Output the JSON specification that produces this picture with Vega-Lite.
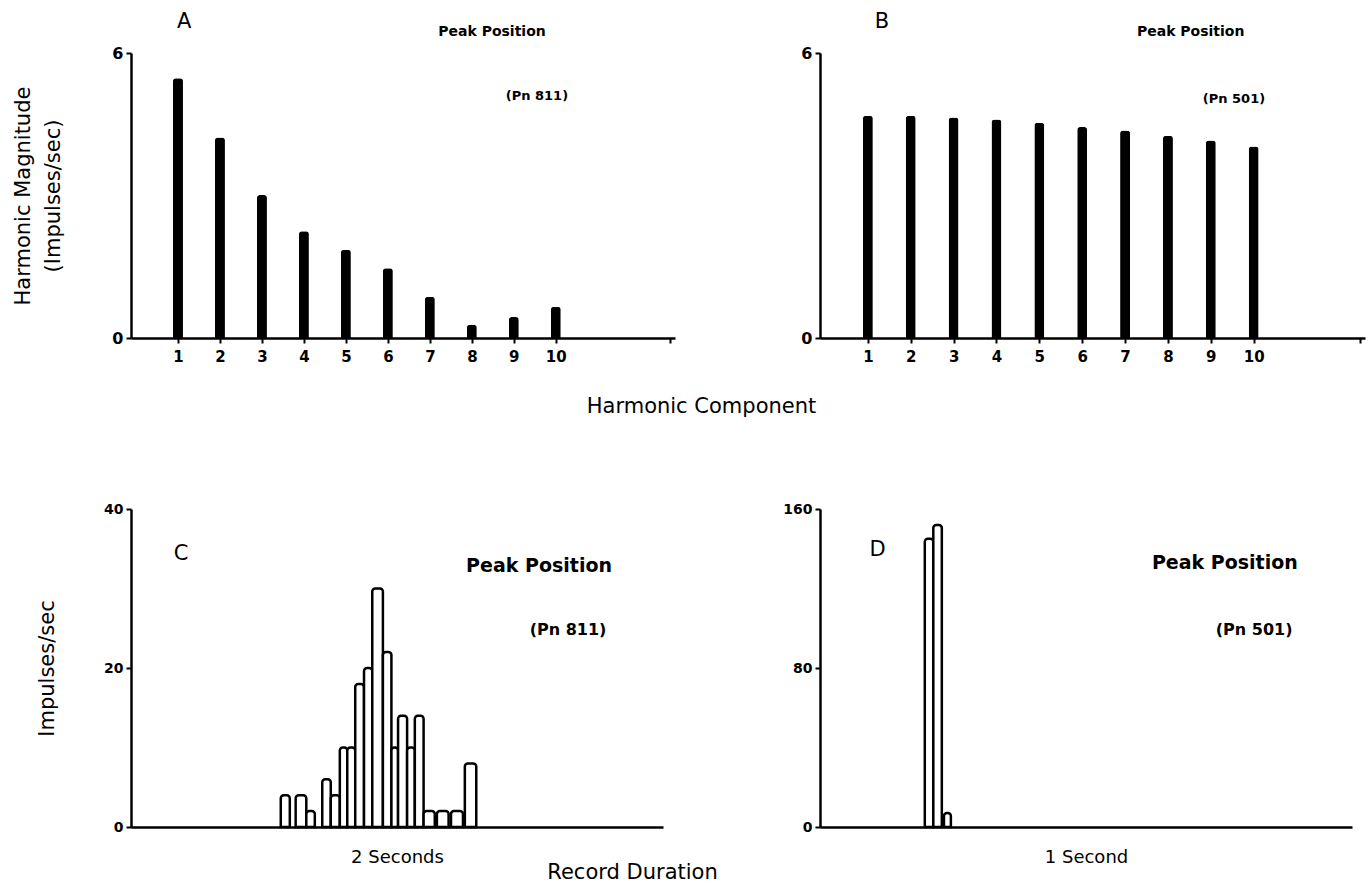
{
  "$schema": "https://vega.github.io/schema/vega-lite/v6.json",
  "background": "white",
  "padding": {"left": 11, "top": 10, "right": 4, "bottom": 2},
  "bounds": "flush",
  "columns": 2,
  "spacing": {"row": 171, "column": 145},
  "title": {"text": "Record Duration", "orient": "bottom", "anchor": "middle", "dx": -56, "offset": -4, "fontSize": 21, "fontWeight": 500, "font": "DejaVu Sans", "color": "black"},
  "config": {
    "view": {"stroke": null},
    "font": "DejaVu Sans",
    "axis": {
      "grid": false,
      "labelFlush": false,
      "labelOverlap": false,
      "domainColor": "black",
      "domainWidth": 2.5,
      "tickColor": "black",
      "tickWidth": 2,
      "tickSize": 5,
      "labelColor": "black",
      "labelFont": "DejaVu Sans",
      "labelFontWeight": "bold",
      "labelFontSize": 15,
      "titleColor": "black",
      "titleFont": "DejaVu Sans",
      "titleFontWeight": "normal",
      "titleFontSize": 21
    },
    "text": {"font": "DejaVu Sans", "color": "black"}
  },
  "datasets": {
    "harmA": [
      {"harmonic": 1, "magnitude": 5.47},
      {"harmonic": 2, "magnitude": 4.22},
      {"harmonic": 3, "magnitude": 3.01},
      {"harmonic": 4, "magnitude": 2.25},
      {"harmonic": 5, "magnitude": 1.86},
      {"harmonic": 6, "magnitude": 1.47},
      {"harmonic": 7, "magnitude": 0.87},
      {"harmonic": 8, "magnitude": 0.28},
      {"harmonic": 9, "magnitude": 0.44},
      {"harmonic": 10, "magnitude": 0.66}
    ],
    "harmB": [
      {"harmonic": 1, "magnitude": 4.68},
      {"harmonic": 2, "magnitude": 4.68},
      {"harmonic": 3, "magnitude": 4.64},
      {"harmonic": 4, "magnitude": 4.6},
      {"harmonic": 5, "magnitude": 4.53},
      {"harmonic": 6, "magnitude": 4.44},
      {"harmonic": 7, "magnitude": 4.37},
      {"harmonic": 8, "magnitude": 4.26},
      {"harmonic": 9, "magnitude": 4.16},
      {"harmonic": 10, "magnitude": 4.03}
    ],
    "histC": [
      {"start": 0.563, "end": 0.597, "rate": 4},
      {"start": 0.619, "end": 0.659, "rate": 4},
      {"start": 0.659, "end": 0.691, "rate": 2},
      {"start": 0.719, "end": 0.751, "rate": 6},
      {"start": 0.751, "end": 0.785, "rate": 4},
      {"start": 0.785, "end": 0.813, "rate": 10},
      {"start": 0.813, "end": 0.843, "rate": 10},
      {"start": 0.843, "end": 0.876, "rate": 18},
      {"start": 0.876, "end": 0.907, "rate": 20},
      {"start": 0.907, "end": 0.947, "rate": 30},
      {"start": 0.947, "end": 0.979, "rate": 22},
      {"start": 0.979, "end": 1.004, "rate": 10},
      {"start": 1.004, "end": 1.038, "rate": 14},
      {"start": 1.038, "end": 1.067, "rate": 10},
      {"start": 1.067, "end": 1.1, "rate": 14},
      {"start": 1.1, "end": 1.142, "rate": 2},
      {"start": 1.15, "end": 1.194, "rate": 2},
      {"start": 1.203, "end": 1.248, "rate": 2},
      {"start": 1.255, "end": 1.298, "rate": 8}
    ],
    "histD": [
      {"start": 0.197, "end": 0.213, "rate": 145},
      {"start": 0.213, "end": 0.229, "rate": 152},
      {"start": 0.233, "end": 0.246, "rate": 7}
    ],
    "one": [{}]
  },
  "concat": [
    {
      "width": 544,
      "height": 285,
      "layer": [
        {
          "data": {"name": "harmA"},
          "mark": {"type": "bar", "size": 10, "color": "black", "cornerRadiusEnd": 3},
          "encoding": {
            "x": {
              "field": "harmonic", "type": "quantitative",
              "scale": {"domain": [0, 12.72], "nice": false, "zero": false},
              "axis": {
                "values": [1, 2, 3, 4, 5, 6, 7, 8, 9, 10, 12.72],
                "labelExpr": "datum.value > 11 ? '' : datum.label",
                "labelPadding": 6,
                "title": "Harmonic Component",
                "titleX": 570,
                "titleY": 74,
                "titleBaseline": "alphabetic",
                "titleAlign": "center"
              }
            },
            "y": {
              "field": "magnitude", "type": "quantitative",
              "scale": {"domain": [0, 6], "nice": false},
              "axis": {
                "values": [0, 6],
                "labelFontSize": 16,
                "labelPadding": 3,
                "title": ["Harmonic Magnitude", "(Impulses/sec)"],
                "titleX": -102,
                "titleBaseline": "alphabetic",
                "titleLineHeight": 30
              }
            }
          }
        },
        {
          "data": {"name": "one"},
          "mark": {"type": "text", "fontSize": 21, "baseline": "middle"},
          "encoding": {"x": {"datum": 1.15}, "y": {"datum": 6.66}, "text": {"value": "A"}}
        },
        {
          "data": {"name": "one"},
          "mark": {"type": "text", "fontSize": 14, "fontWeight": "bold", "baseline": "middle"},
          "encoding": {"x": {"datum": 8.48}, "y": {"datum": 6.44}, "text": {"value": "Peak Position"}}
        },
        {
          "data": {"name": "one"},
          "mark": {"type": "text", "fontSize": 13, "fontWeight": "bold", "baseline": "middle"},
          "encoding": {"x": {"datum": 9.55}, "y": {"datum": 5.09}, "text": {"value": "(Pn 811)"}}
        }
      ]
    },
    {
      "width": 545,
      "height": 285,
      "layer": [
        {
          "data": {"name": "harmB"},
          "mark": {"type": "bar", "size": 10, "color": "black", "cornerRadiusEnd": 3},
          "encoding": {
            "x": {
              "field": "harmonic", "type": "quantitative",
              "scale": {"domain": [0, 12.48], "nice": false, "zero": false},
              "axis": {
                "values": [1, 2, 3, 4, 5, 6, 7, 8, 9, 10, 12.48],
                "labelExpr": "datum.value > 11 ? '' : datum.label",
                "labelPadding": 6,
                "title": null
              }
            },
            "y": {
              "field": "magnitude", "type": "quantitative",
              "scale": {"domain": [0, 6], "nice": false},
              "axis": {"values": [0, 6], "labelFontSize": 16, "labelPadding": 3, "title": null}
            }
          }
        },
        {
          "data": {"name": "one"},
          "mark": {"type": "text", "fontSize": 21, "baseline": "middle"},
          "encoding": {"x": {"datum": 1.33}, "y": {"datum": 6.66}, "text": {"value": "B"}}
        },
        {
          "data": {"name": "one"},
          "mark": {"type": "text", "fontSize": 14, "fontWeight": "bold", "baseline": "middle"},
          "encoding": {"x": {"datum": 8.53}, "y": {"datum": 6.44}, "text": {"value": "Peak Position"}}
        },
        {
          "data": {"name": "one"},
          "mark": {"type": "text", "fontSize": 13, "fontWeight": "bold", "baseline": "middle"},
          "encoding": {"x": {"datum": 9.54}, "y": {"datum": 5.03}, "text": {"value": "(Pn 501)"}}
        }
      ]
    },
    {
      "width": 532,
      "height": 318,
      "layer": [
        {
          "data": {"name": "histC"},
          "mark": {"type": "bar", "fill": "white", "stroke": "black", "strokeWidth": 2.5, "cornerRadiusTopLeft": 3, "cornerRadiusTopRight": 3},
          "encoding": {
            "x": {
              "field": "start", "type": "quantitative",
              "scale": {"domain": [0, 2], "nice": false, "zero": false},
              "axis": {"ticks": false, "labels": false, "title": "2 Seconds", "titleFontSize": 18, "titleY": 35, "titleBaseline": "alphabetic"}
            },
            "x2": {"field": "end"},
            "y": {
              "field": "rate", "type": "quantitative",
              "scale": {"domain": [0, 40], "nice": false},
              "axis": {
                "values": [0, 20, 40],
                "labelFontSize": 14,
                "labelPadding": 3,
                "title": "Impulses/sec",
                "titleX": -78,
                "titleBaseline": "alphabetic"
              }
            },
            "y2": {"datum": 0}
          }
        },
        {
          "data": {"name": "one"},
          "mark": {"type": "text", "fontSize": 21, "baseline": "middle"},
          "encoding": {"x": {"datum": 0.188}, "y": {"datum": 34.4}, "text": {"value": "C"}}
        },
        {
          "data": {"name": "one"},
          "mark": {"type": "text", "fontSize": 19, "fontWeight": "bold", "baseline": "middle"},
          "encoding": {"x": {"datum": 1.534}, "y": {"datum": 32.8}, "text": {"value": "Peak Position"}}
        },
        {
          "data": {"name": "one"},
          "mark": {"type": "text", "fontSize": 16, "fontWeight": "bold", "baseline": "middle"},
          "encoding": {"x": {"datum": 1.643}, "y": {"datum": 24.8}, "text": {"value": "(Pn 811)"}}
        }
      ]
    },
    {
      "width": 532,
      "height": 318,
      "layer": [
        {
          "data": {"name": "histD"},
          "mark": {"type": "bar", "fill": "white", "stroke": "black", "strokeWidth": 2.5, "cornerRadiusTopLeft": 3, "cornerRadiusTopRight": 3},
          "encoding": {
            "x": {
              "field": "start", "type": "quantitative",
              "scale": {"domain": [0, 1], "nice": false, "zero": false},
              "axis": {"ticks": false, "labels": false, "title": "1 Second", "titleFontSize": 18, "titleY": 35, "titleBaseline": "alphabetic"}
            },
            "x2": {"field": "end"},
            "y": {
              "field": "rate", "type": "quantitative",
              "scale": {"domain": [0, 160], "nice": false},
              "axis": {"values": [0, 80, 160], "labelFontSize": 14, "labelPadding": 3, "title": null}
            },
            "y2": {"datum": 0}
          }
        },
        {
          "data": {"name": "one"},
          "mark": {"type": "text", "fontSize": 21, "baseline": "middle"},
          "encoding": {"x": {"datum": 0.108}, "y": {"datum": 139.6}, "text": {"value": "D"}}
        },
        {
          "data": {"name": "one"},
          "mark": {"type": "text", "fontSize": 19, "fontWeight": "bold", "baseline": "middle"},
          "encoding": {"x": {"datum": 0.761}, "y": {"datum": 132.6}, "text": {"value": "Peak Position"}}
        },
        {
          "data": {"name": "one"},
          "mark": {"type": "text", "fontSize": 16, "fontWeight": "bold", "baseline": "middle"},
          "encoding": {"x": {"datum": 0.816}, "y": {"datum": 99.3}, "text": {"value": "(Pn 501)"}}
        }
      ]
    }
  ]
}
